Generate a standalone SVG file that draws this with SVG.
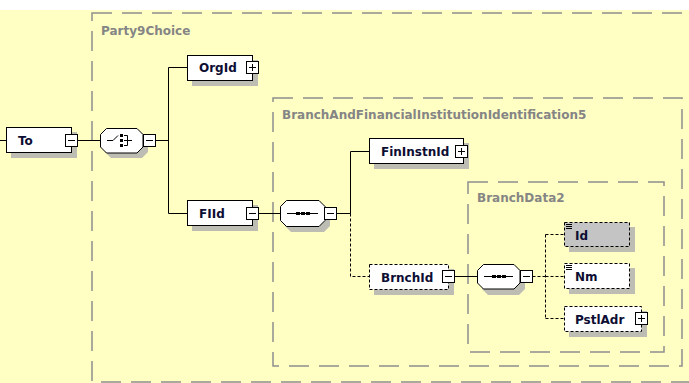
<svg xmlns="http://www.w3.org/2000/svg" width="689" height="383" viewBox="0 0 689 383">
<style>
.grp{fill:none;stroke:#8f8f8f;stroke-width:1.5;stroke-dasharray:20 10}
.glbl{font-family:"DejaVu Sans",Verdana,sans-serif;font-weight:bold;font-size:12px;fill:#858585}
.lbl{font-family:"DejaVu Sans",Verdana,sans-serif;font-weight:bold;font-size:12px;fill:#0d0d33}
.box{fill:#fff;stroke:#000;stroke-width:1}
.opt{fill:#fff;stroke:#000;stroke-width:1;stroke-dasharray:3 2}
.attr{fill:#c4c4c4;stroke:#000;stroke-width:1;stroke-dasharray:3 2}
.sh{fill:#bdbdb4}
.btn{fill:#fff;stroke:#000;stroke-width:1}
.ln{stroke:#000;stroke-width:1;fill:none}
.dl{stroke:#000;stroke-width:1;fill:none;stroke-dasharray:3 2}
</style>
<rect x="0" y="10" width="689" height="373" fill="#ffffc4"/>
<g id="Party9Choice">
<rect class="grp" x="92" y="13" width="610" height="369"/>
<text class="glbl" x="101" y="35">Party9Choice</text>
</g>
<g id="BranchAndFinancialInstitutionIdentification5">
<rect class="grp" x="273" y="98" width="409" height="268"/>
<text class="glbl" x="282" y="119">BranchAndFinancialInstitutionIdentification5</text>
</g>
<g id="BranchData2">
<rect class="grp" x="468" y="182" width="196" height="170"/>
<text class="glbl" x="477" y="202">BranchData2</text>
</g>
<g id="connectors">
<path class="ln" d="M0,140.5H6.5M77.5,140.5H100M155.5,140.5H168.5M168.5,67.5V213.5M168.5,67.5H187.5M168.5,213.5H187.5M258.5,213.5H280M336.5,213.5H350.5M350.5,151.5V213.5M350.5,151.5H369.5M454.5,276.5H477"/>
<path class="dl" d="M350.5,213.5V276.5H369.5M532.5,276.5H545.5M545.5,234.5V318.5M545.5,234.5H564.5M545.5,276.5H564.5M545.5,318.5H564.5"/>
</g>
<g id="To">
<rect class="sh" x="11" y="132" width="66" height="26"/>
<rect class="box" x="6.5" y="127.5" width="65" height="25"/>
<text class="lbl" x="18" y="145">To</text>
<rect class="btn" x="65.5" y="134.5" width="12" height="12"/>
<path class="ln" d="M68,140.5H75"/>
</g>
<g id="choice">
<path class="sh" d="M111,133H142L148,139V152L142,158H111L105,152V139Z"/>
<path class="box" d="M106.5,128.5H137L143,134.5V147L137,153H106.5L100.5,147V134.5Z"/>
<path class="ln" d="M107,140.5H113L118,135.5"/>
<rect x="120" y="134" width="3" height="3" fill="#000"/>
<rect x="120" y="139" width="3" height="3" fill="#000"/>
<rect x="120" y="144" width="3" height="3" fill="#000"/>
<path class="ln" d="M124,135.5H127.5V145.5H124M124,140.5H132"/>
<rect class="btn" x="143.5" y="134.5" width="12" height="12"/>
<path class="ln" d="M146,140.5H153"/>
</g>
<g id="OrgId">
<rect class="sh" x="192" y="60" width="66" height="26"/>
<rect class="box" x="187.5" y="55.5" width="65" height="25"/>
<text class="lbl" x="199" y="72">OrgId</text>
<rect class="btn" x="246.5" y="61.5" width="12" height="12"/>
<path class="ln" d="M249,67.5H256M252.5,64V71"/>
</g>
<g id="FIId">
<rect class="sh" x="192" y="205" width="66" height="26"/>
<rect class="box" x="187.5" y="200.5" width="65" height="25"/>
<text class="lbl" x="199" y="218">FIId</text>
<rect class="btn" x="246.5" y="207.5" width="12" height="12"/>
<path class="ln" d="M249,213.5H256"/>
</g>
<g id="sequence1">
<path class="sh" d="M291,205H324L330,211V226L324,232H291L285,226V211Z"/>
<path class="box" d="M286.5,200.5H319L325,206.5V220.5L319,226.5H286.5L280.5,220.5V206.5Z"/>
<path class="ln" d="M287,213.5H318"/>
<rect x="296" y="212" width="4" height="3" fill="#000"/>
<rect x="301" y="212" width="4" height="3" fill="#000"/>
<rect x="306" y="212" width="4" height="3" fill="#000"/>
<rect class="btn" x="324.5" y="207.5" width="12" height="12"/>
<path class="ln" d="M327,213.5H334"/>
</g>
<g id="FinInstnId">
<rect class="sh" x="374" y="143" width="95" height="26"/>
<rect class="box" x="369.5" y="138.5" width="94" height="25"/>
<text class="lbl" x="381" y="156">FinInstnId</text>
<rect class="btn" x="455.5" y="145.5" width="12" height="12"/>
<path class="ln" d="M458,151.5H465M461.5,148V155"/>
</g>
<g id="BrnchId">
<rect class="sh" x="374" y="269" width="80" height="26"/>
<rect class="opt" x="369.5" y="264.5" width="79" height="25"/>
<text class="lbl" x="381" y="282">BrnchId</text>
<rect class="btn" x="442.5" y="270.5" width="12" height="12"/>
<path class="ln" d="M445,276.5H452"/>
</g>
<g id="sequence2">
<path class="sh" d="M488,269H519L525,275V289L519,295H488L482,289V275Z"/>
<path class="box" d="M483.5,264.5H514L520,270.5V283L514,289H483.5L477.5,283V270.5Z"/>
<path class="ln" d="M484,276.5H513"/>
<rect x="492" y="275" width="4" height="3" fill="#000"/>
<rect x="497" y="275" width="4" height="3" fill="#000"/>
<rect x="502" y="275" width="4" height="3" fill="#000"/>
<rect class="btn" x="520.5" y="270.5" width="12" height="12"/>
<path class="ln" d="M523,276.5H530"/>
</g>
<g id="Id">
<rect class="sh" x="569" y="227" width="66" height="25"/>
<rect class="attr" x="564.5" y="222.5" width="65" height="24"/>
<path class="ln" d="M566,224.5H572M566,226.5H572M566,228.5H572"/>
<text class="lbl" x="575" y="240">Id</text>
</g>
<g id="Nm">
<rect class="sh" x="569" y="268" width="66" height="26"/>
<rect class="opt" x="564.5" y="263.5" width="65" height="25"/>
<path class="ln" d="M566,265.5H572M566,267.5H572M566,269.5H572"/>
<text class="lbl" x="575" y="281">Nm</text>
</g>
<g id="PstlAdr">
<rect class="sh" x="569" y="311" width="78" height="26"/>
<rect class="opt" x="564.5" y="306.5" width="77" height="25"/>
<text class="lbl" x="575" y="324">PstlAdr</text>
<rect class="btn" x="635.5" y="312.5" width="12" height="12"/>
<path class="ln" d="M638,318.5H645M641.5,315V322"/>
</g>
</svg>
